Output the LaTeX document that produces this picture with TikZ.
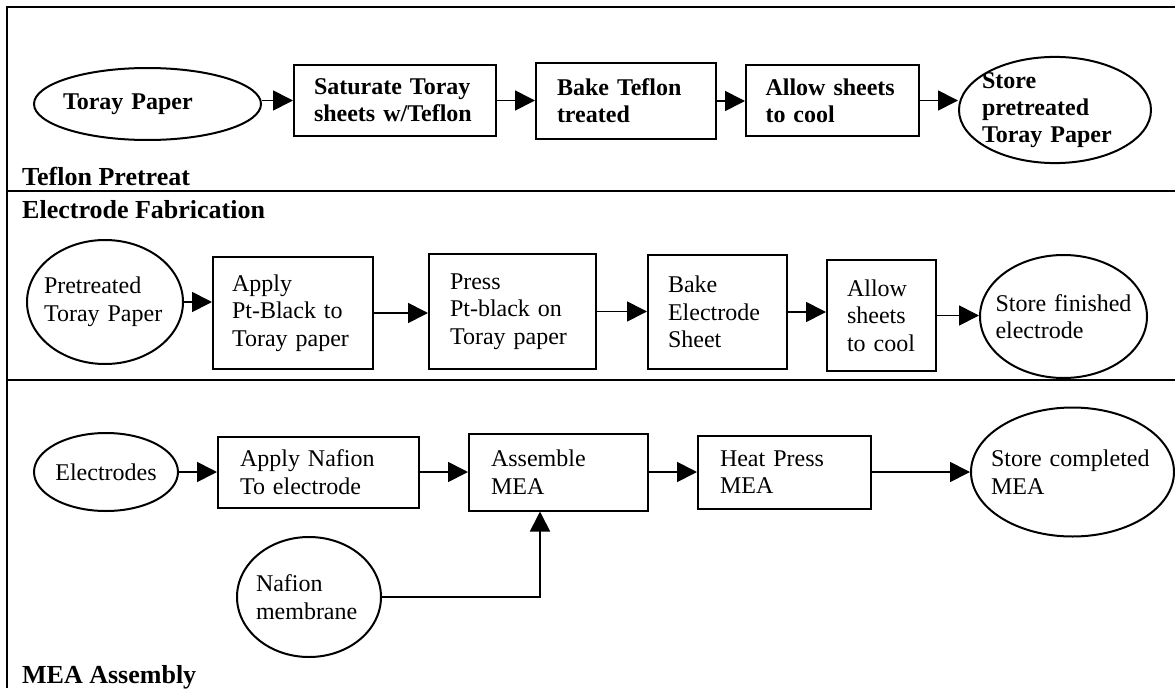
\documentclass[tikz,border=0pt]{standalone}
\usepackage{fontspec}
\setmainfont{Liberation Serif}
\usetikzlibrary{shapes.geometric,arrows.meta}

\begin{document}
\begin{tikzpicture}[x=1pt,y=-1pt,
  every node/.style={font=\fontsize{24}{27.5}\selectfont,inner sep=0pt},
  bold/.style={font=\fontsize{24}{27}\selectfont\bfseries},
  proc/.style={draw,line width=2pt,align=left},
  term/.style={draw,ellipse,line width=2pt,align=left,inner xsep=-30pt},
  flow/.style={line width=1.7pt,-{Triangle[length=20pt,width=20pt]}},
  part/.style={anchor=base west,font=\fontsize{26}{30}\selectfont\bfseries}]
\useasboundingbox (0,0) rectangle (1175,688);
\draw[line width=2.4pt] (7,688) -- (7,7) -- (1175,7);
\draw[line width=2.4pt] (7,191) -- (1175,191);
\draw[line width=2.4pt] (7,380) -- (1175,380);
\node[part] (LTP) at (22,185) {Teflon Pretreat};
\node[part] (LEF) at (22,218) {Electrode Fabrication};
\node[part] (LMA) at (22,683) {MEA Assembly};
\node[term,bold,minimum width=227pt,minimum height=72pt,text width=169pt] (TP) at (147.5,104) {Toray Paper};
\node[proc,bold,minimum width=202pt,minimum height=71pt,text width=162pt] (Sat) at (395,100.5) {Saturate Toray\\sheets w/Teflon};
\node[proc,bold,minimum width=180pt,minimum height=76pt,text width=138pt] (BkT) at (626,101) {Bake Teflon\\treated};
\node[proc,bold,minimum width=173pt,minimum height=71pt,text width=134pt] (Cl1) at (832.5,100.5) {Allow sheets\\to cool};
\node[term,bold,minimum width=192pt,minimum height=98pt,text width=146pt] (STP) at (1055,110) {Store\\pretreated\\Toray Paper};
\node[term,minimum width=156pt,minimum height=124pt,text width=122pt] (PTP) at (105,302) {Pretreated\\Toray Paper};
\node[proc,minimum width=160pt,minimum height=112pt,text width=122pt] (APt) at (293,313) {Apply\\Pt-Black to\\Toray paper};
\node[proc,minimum width=167pt,minimum height=115pt,text width=125pt] (PPt) at (512.5,311.5) {Press\\Pt-black on\\Toray paper};
\node[proc,minimum width=139pt,minimum height=114pt,text width=99pt] (BkE) at (717.5,312) {Bake\\Electrode\\Sheet};
\node[proc,minimum width=109pt,minimum height=111pt,text width=69pt] (Cl2) at (881.5,315.5) {Allow\\sheets\\to cool};
\node[term,minimum width=167pt,minimum height=123pt,text width=136pt] (SFE) at (1063.5,316.5) {Store finished\\electrode};
\node[term,minimum width=144pt,minimum height=78pt] (El) at (106,472) {Electrodes};
\node[proc,minimum width=201pt,minimum height=71pt,text width=157pt] (ANf) at (318.5,472) {Apply Nafion\\To electrode};
\node[proc,minimum width=179pt,minimum height=77pt,text width=135pt] (AMEA) at (558.5,472) {Assemble\\MEA};
\node[term,minimum width=144pt,minimum height=120pt,text width=106pt] (NM) at (309,597) {Nafion\\membrane};
\node[proc,minimum width=173pt,minimum height=73pt,text width=129pt] (HP) at (784.5,472) {Heat Press\\MEA};
\node[term,minimum width=203pt,minimum height=129pt,text width=163pt] (SCM) at (1072.5,472) {Store completed\\MEA};
\coordinate (NMj) at (540,597);
\draw[flow] (TP.east |- Sat.west) -- (Sat.west);
\draw[flow] (Sat.east) -- (Sat.east -| BkT.west);
\draw[flow] (BkT.east) -- (BkT.east -| Cl1.west);
\draw[flow] (Cl1.east) -- (Cl1.east -| STP.west);
\draw[flow] (PTP.east) -- (PTP.east -| APt.west);
\draw[flow] (APt.east) -- (APt.east -| PPt.west);
\draw[flow] (PPt.east) -- (PPt.east -| BkE.west);
\draw[flow] (BkE.east) -- (BkE.east -| Cl2.west);
\draw[flow] (Cl2.east) -- (Cl2.east -| SFE.west);
\draw[flow] (El) -- (ANf);
\draw[flow] (ANf) -- (AMEA);
\draw[flow] (AMEA) -- (HP);
\draw[flow] (HP) -- (SCM);
\draw[flow] (NM) -- (NMj) -- (NMj |- AMEA.south);
\end{tikzpicture}
\end{document}
